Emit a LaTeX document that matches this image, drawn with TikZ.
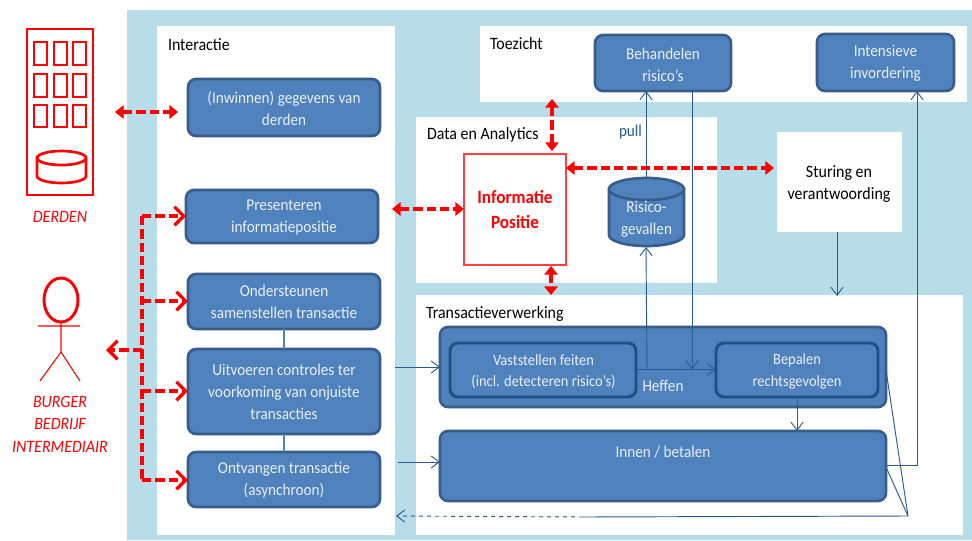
\documentclass[tikz,border=0pt]{standalone}
\usepackage{fontspec}
\setmainfont[FakeStretch=0.92]{Carlito}
\usetikzlibrary{arrows.meta,calc}
\definecolor{bgblue}{HTML}{B7DDE8}
\definecolor{boxblue}{HTML}{4F81BD}
\definecolor{boxedge}{HTML}{385D8A}
\definecolor{inneredge}{HTML}{1F4E85}
\definecolor{flow}{HTML}{2A5A96}
\definecolor{boxtext}{HTML}{EAF0F7}
\newcommand{\bodyfont}{\fontsize{12.4}{16.5}\selectfont}
\newcommand{\smallbody}{\fontsize{11.8}{16.2}\selectfont}
\newcommand{\headfont}{\fontsize{13}{16.5}\selectfont}
\tikzset{
  x=0.75pt,y=-0.75pt,
  every node/.style={inner sep=0pt,outer sep=0pt,font=\bodyfont,align=center},
  panel/.style={fill=white,font=\headfont,text=black},
  blk/.style={fill=boxblue,draw=boxedge,line width=2pt,rounded corners=6pt,text=boxtext},
  innerblk/.style={fill=boxblue,draw=inneredge,line width=2.2pt,rounded corners=6pt,text=boxtext,font=\smallbody},
  title/.style={anchor=west,text=black,font=\headfont},
  flowline/.style={draw=flow,line width=0.7pt},
  flowarrow/.style={flowline,-{Straight Barb[length=6pt,width=9pt,line width=0.7pt]}},
  reddash/.style={draw=red,line width=2.7pt,dash pattern=on 7pt off 3pt},
  redboth/.style={reddash,{Triangle[length=6.5pt,width=10pt,fill=red]}-{Triangle[length=6.5pt,width=10pt,fill=red]}},
  redto/.style={reddash,-{Straight Barb[length=7pt,width=14pt,line width=2.4pt]}},
  redline/.style={draw=red,line width=2pt},
  redlabel/.style={text=red,font=\fontsize{13}{16.8}\selectfont\itshape},
}
% #1 name, #2-#5 box corners, #6 style, #7 text
\newcommand{\bx}[7]{%
  \pgfmathsetmacro{\cxv}{(#2+#4)/2}\pgfmathsetmacro{\cyv}{(#3+#5)/2}%
  \pgfmathsetmacro{\wv}{(#4-#2)*0.75}\pgfmathsetmacro{\hv}{(#5-#3)*0.75}%
  \node[#6,minimum width=\wv pt,minimum height=\hv pt] (#1) at (\cxv,\cyv) {#7};}
\begin{document}
\begin{tikzpicture}
\useasboundingbox (0,0) rectangle (972,540);
\fill[white] (0,0) rectangle (972,540);
\fill[bgblue] (127,10) rectangle (972,540);
% panels
\bx{interactie}{157}{26}{395}{535}{panel}{}
\bx{toezicht}{480}{26}{967}{102}{panel}{}
\bx{data}{416}{117}{717}{283}{panel}{}
\bx{transactie}{416}{295}{963}{535}{panel}{}
\node[title] (tInteractie) at (168,45) {Interactie};
\node[title] (tToezicht) at (490,44) {Toezicht};
\node[title] (tData) at (427,135) {Data en Analytics};
\node[title] (tTrans) at (426,314) {Transactieverwerking};
% interactie boxes
\bx{inwinnen}{188}{79}{380}{136}{blk}{}
\node[text=boxtext] (inwinnenT) at (284,109) {(Inwinnen) gegevens van\\derden};
\bx{presenteren}{186}{190}{378}{243}{blk}{}
\node[text=boxtext] (presenterenT) at (284,217.5) {Presenteren\\informatiepositie};
\bx{ondersteunen}{188}{274}{380}{329}{blk}{Ondersteunen\\samenstellen transactie}
\bx{uitvoeren}{188}{349}{380}{434}{blk}{Uitvoeren controles ter\\voorkoming van onjuiste\\transacties}
\bx{ontvangen}{188}{452}{380}{507}{blk}{}
\node[text=boxtext] (ontvangenT) at (284,480.5) {Ontvangen transactie\\(asynchroon)};
\draw[draw=boxblue,line width=0.8pt] (ondersteunen) -- (uitvoeren);
\draw[draw=boxblue,line width=0.8pt] (uitvoeren) -- (ontvangen);
% toezicht
\bx{behandelen}{595}{35}{731}{91}{blk}{}
\node[text=boxtext] (behandelenT) at (663,64.5) {Behandelen\\risico’s};
\bx{intensieve}{817}{34}{954}{91}{blk}{}
\node[text=boxtext] (intensieveT) at (885.5,63.5) {Intensieve\\invordering};
% data
\bx{informatie}{464}{154}{566}{265}{draw=red!75!white,fill=white,line width=0.8pt,text=red,font=\fontsize{14}{18.5}\selectfont\bfseries}{Informatie\\Positie}
\fill[boxblue,draw=boxedge,line width=2pt] (609,189) -- (609,235) arc[start angle=180,end angle=0,x radius=37.5,y radius=11] -- (684,189) -- cycle;
\fill[boxblue,draw=boxedge,line width=2pt] (646.5,189) ellipse[x radius=37.5,y radius=11];
\node[text=boxtext] (risico) at (646.5,219) {Risico-\\gevallen};
\coordinate (risicoTop) at (646,178);
\coordinate (risicoBot) at (646,247);
\node[text=flow,anchor=west] (pull) at (619,132) {pull};
\bx{sturing}{777}{132}{902}{232}{panel}{}
\node[font=\headfont] (sturingT) at (839,184) {Sturing en\\verantwoording};
% transactie
\bx{outer}{440}{327}{886}{407}{blk}{}
\bx{vaststellen}{450}{343}{636}{397}{innerblk}{}
\node[text=boxtext,font=\smallbody] (vaststellenT) at (543.5,371.5) {Vaststellen feiten\\(incl. detecteren risico’s)};
\bx{bepalen}{716}{343}{878}{397}{innerblk}{}
\node[text=boxtext,font=\smallbody] (bepalenT) at (797,371.5) {Bepalen\\rechtsgevolgen};
\node[text=boxtext] (heffen) at (663,386) {Heffen};
\bx{innen}{440}{431}{886}{501}{blk}{}
\node[text=boxtext] (innenText) at (663,452) {Innen / betalen};
% flows
\coordinate (split) at (908,516);
\coordinate (dashStart) at (583,517);
\coordinate (midH) at (647,369.5);
\draw[flowarrow] (risicoTop) -- (646,91);
\draw[flowarrow] (692,91) -- (692,369.5);
\draw[flowarrow] (vaststellen.east |- midH) -- (bepalen.west |- midH);
\draw[flowarrow] (midH) -- (risicoBot);
\draw[flowarrow] (837,232) -- (837,296);
\draw[flowarrow] (797,397) -- (797,431);
\draw[flowarrow] (886,465) -- (917,465) -- (917,91);
\draw[flowarrow] (395,367) -- (440,367);
\draw[flowarrow] (398,462) -- (440,462);
\draw[flowline] (886,370) -- (split);
\draw[flowline] (886,467) -- (split);
\draw[flowline] (split) -- (dashStart);
\draw[flowarrow,dashed] (dashStart) -- (396,516);
% red connections
\coordinate (busTop) at (142,216);
\coordinate (busBot) at (142,480);
\coordinate (derdenR) at (115,112);
\coordinate (burgerR) at (106,350);
\draw[redboth] (derdenR) -- (178,112);
\draw[redto] (busTop) -- (presenteren.west |- busTop);
\draw[reddash] (busTop) -- (busBot);
\draw[redto] (142,301) -- (ondersteunen.west |- 142,301);
\draw[redto] (142,350) -- (burgerR);
\draw[redto] (142,391) -- (uitvoeren.west |- 142,391);
\draw[redto] (busBot) -- (ontvangen.west |- busBot);
\draw[redboth] (392,209) -- (informatie.west |- 392,209);
\draw[redboth] (552,99) -- (552,151);
\draw[redboth] (551,266) -- (551,295);
\draw[redboth] (informatie.east |- 0,168) -- (774,168);
% derden building
\draw[redline] (27,29) rectangle (93,195);
\foreach \wx in {34,54,73} \foreach \wy/\wh in {42/23,74/23,105/22}
  \draw[redline] (\wx,\wy) rectangle ++(13,\wh);
\draw[redline] (37,158) -- (37,176) arc[start angle=180,end angle=0,x radius=24.5,y radius=7] -- (86,158);
\draw[redline] (61.5,158) ellipse[x radius=24.5,y radius=7];
\node[redlabel] (derden) at (60,217) {DERDEN};
% person
\draw[draw=red,line width=2.2pt] (61,300) ellipse[x radius=17,y radius=22];
\draw[draw=red,line width=0.8pt] (38,326) -- (80,326) (61,322) -- (61,352) (40,381) -- (61,352) -- (80,381);
\node[redlabel] (burger) at (60,424) {BURGER\\BEDRIJF\\INTERMEDIAIR};
\end{tikzpicture}
\end{document}
